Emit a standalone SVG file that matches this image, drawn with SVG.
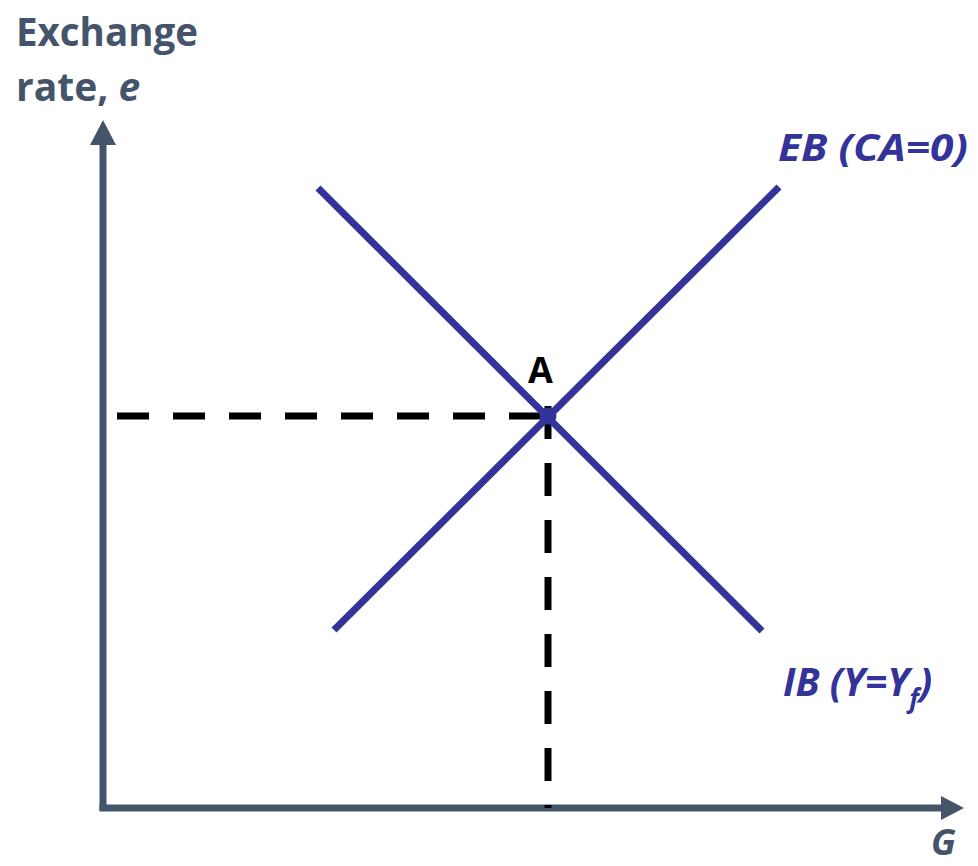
<svg xmlns="http://www.w3.org/2000/svg" width="978" height="866" viewBox="0 0 978 866">
<style>
.ax{stroke:#44546A;stroke-width:7;fill:none}
.axh{fill:#44546A}
.cur{stroke:#333399;stroke-width:7;fill:none;stroke-linecap:butt}
.dash{stroke:#000;stroke-width:7;fill:none;stroke-dasharray:32 24}
.t{font-family:"Open Sans","Liberation Sans",sans-serif;font-weight:bold}
.slate{fill:#44546A}
.blue{fill:#333399;font-style:italic}
</style>
<rect width="978" height="866" fill="#fff"/>
<g id="axes">
<line class="ax" x1="103" y1="143" x2="103" y2="811"/>
<line class="ax" x1="99.5" y1="808" x2="943" y2="808"/>
<polygon class="axh" points="103,120 90,145 116,145"/>
<polygon class="axh" points="964,808 941,796 941,820"/>
</g>
<g id="connectors">
<line class="dash" x1="117" y1="416" x2="548" y2="416"/>
<line class="dash" x1="548" y1="406" x2="548" y2="808" style="stroke-dasharray:33 24"/>
</g>
<g id="EB">
<line class="cur" x1="334" y1="630" x2="779" y2="187"/>
<text class="t blue" x="778" y="161" font-size="38" textLength="190" lengthAdjust="spacingAndGlyphs">EB (CA=0)</text>
</g>
<g id="IB">
<line class="cur" x1="318" y1="188" x2="762" y2="631"/>
<text class="t blue" x="783" y="696" font-size="39">IB (Y=Y<tspan font-size="26" dy="12">f</tspan><tspan dy="-12">)</tspan></text>
</g>
<g id="pointA">
<circle cx="548" cy="416" r="8.5" fill="#333399"/>
<text class="t" x="528" y="383" font-size="36" fill="#000">A</text>
</g>
<g id="labels">
<text class="t slate" x="16" y="46" font-size="39" textLength="182" lengthAdjust="spacingAndGlyphs">Exchange</text>
<text class="t slate" x="16" y="101" font-size="39">rate, <tspan font-style="italic">e</tspan></text>
<text class="t slate" x="931" y="855" font-size="36" font-style="italic">G</text>
</g>
</svg>
